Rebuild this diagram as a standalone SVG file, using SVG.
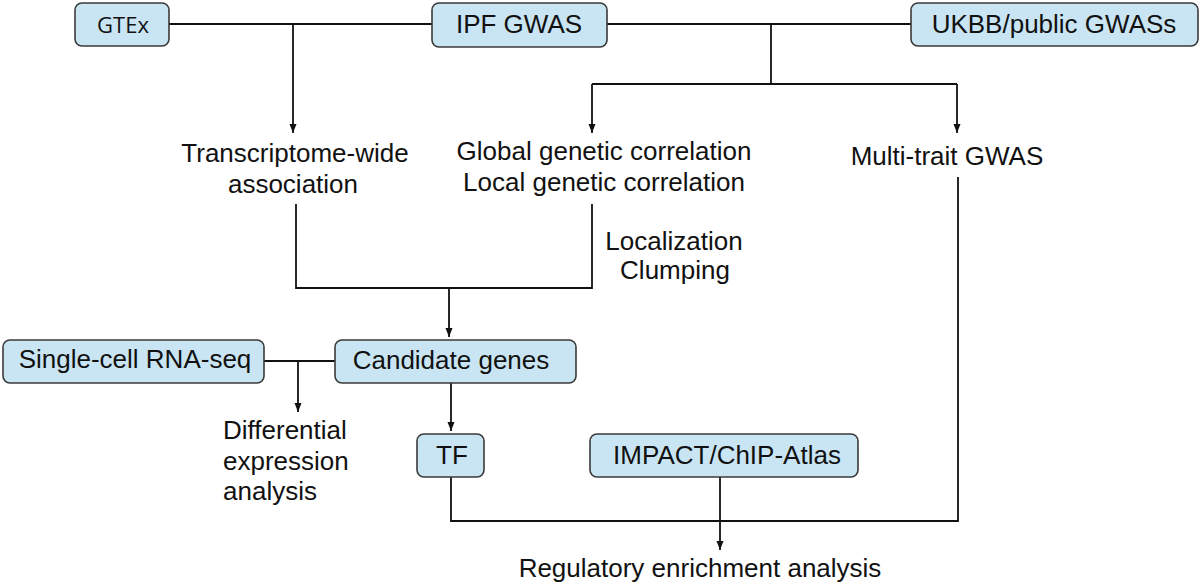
<svg xmlns="http://www.w3.org/2000/svg" width="1200" height="585" viewBox="0 0 1200 585">
  <defs>
    <marker id="arr" markerUnits="userSpaceOnUse" markerWidth="10" markerHeight="8" refX="9" refY="3.5" orient="auto">
      <path d="M0,0 L9,3.5 L0,7 z" fill="#111"/>
    </marker>
  </defs>
  <style>
    .box { fill: #c9e5f3; stroke: #3a3a3a; stroke-width: 1.6; }
    .t { font-family: "Liberation Sans", Arial, Helvetica, sans-serif; font-size: 26px; fill: #111; }
    .mid { text-anchor: middle; }
    .gtex { font-family: "Open Sans", "Liberation Sans", sans-serif; font-size: 22px; fill: #111; text-anchor: middle; }
    .ln { fill: none; stroke: #111; stroke-width: 1.8; }
  </style>
  <rect width="1200" height="585" fill="#ffffff"/>

  <g id="connectors">
    <path class="ln" d="M169,24 H432"/>
    <path class="ln" d="M607,24 H911"/>
    <path class="ln" d="M293,24 V133" marker-end="url(#arr)"/>
    <path class="ln" d="M771,24 V84"/>
    <path class="ln" d="M592,84 H957"/>
    <path class="ln" d="M592,84 V133" marker-end="url(#arr)"/>
    <path class="ln" d="M957,84 V133" marker-end="url(#arr)"/>
    <path class="ln" d="M296,204 V288 H592 V204"/>
    <path class="ln" d="M449,288 V337" marker-end="url(#arr)"/>
    <path class="ln" d="M264,361 H335"/>
    <path class="ln" d="M298,361 V412" marker-end="url(#arr)"/>
    <path class="ln" d="M451,383 V431" marker-end="url(#arr)"/>
    <path class="ln" d="M451,477 V521 H958 V177"/>
    <path class="ln" d="M720,477 V550" marker-end="url(#arr)"/>
  </g>

  <g id="gtex">
    <rect class="box" x="75" y="3" width="94" height="43" rx="7"/>
    <text class="gtex" x="123" y="33">GTEx</text>
  </g>
  <g id="ipf-gwas">
    <rect class="box" x="432" y="3" width="175" height="44" rx="7"/>
    <text class="t mid" x="519" y="33">IPF GWAS</text>
  </g>
  <g id="ukbb">
    <rect class="box" x="911" y="3" width="287" height="43" rx="7"/>
    <text class="t mid" x="1054" y="33">UKBB/public GWASs</text>
  </g>

  <g id="twas">
    <text class="t mid" x="295" y="162">Transcriptome-wide</text>
    <text class="t mid" x="293" y="193">association</text>
  </g>
  <g id="genetic-correlation">
    <text class="t mid" x="604" y="160">Global genetic correlation</text>
    <text class="t mid" x="604" y="191">Local genetic correlation</text>
  </g>
  <g id="multi-trait">
    <text class="t mid" x="947" y="165">Multi-trait GWAS</text>
  </g>
  <g id="localization">
    <text class="t mid" x="674" y="250">Localization</text>
    <text class="t mid" x="675" y="279">Clumping</text>
  </g>

  <g id="single-cell">
    <rect class="box" x="3" y="340" width="261" height="43" rx="7"/>
    <text class="t mid" x="135" y="368">Single-cell RNA-seq</text>
  </g>
  <g id="candidate-genes">
    <rect class="box" x="335" y="340" width="241" height="43" rx="7"/>
    <text class="t mid" x="451" y="369">Candidate genes</text>
  </g>
  <g id="differential">
    <text class="t" x="223" y="439">Differential</text>
    <text class="t" x="223" y="470">expression</text>
    <text class="t" x="223" y="500">analysis</text>
  </g>
  <g id="tf">
    <rect class="box" x="417" y="434" width="67" height="43" rx="7"/>
    <text class="t mid" x="452" y="464">TF</text>
  </g>
  <g id="impact">
    <rect class="box" x="590" y="434" width="268" height="43" rx="7"/>
    <text class="t mid" x="727" y="464">IMPACT/ChIP-Atlas</text>
  </g>
  <g id="regulatory">
    <text class="t mid" x="700" y="577">Regulatory enrichment analysis</text>
  </g>
</svg>
